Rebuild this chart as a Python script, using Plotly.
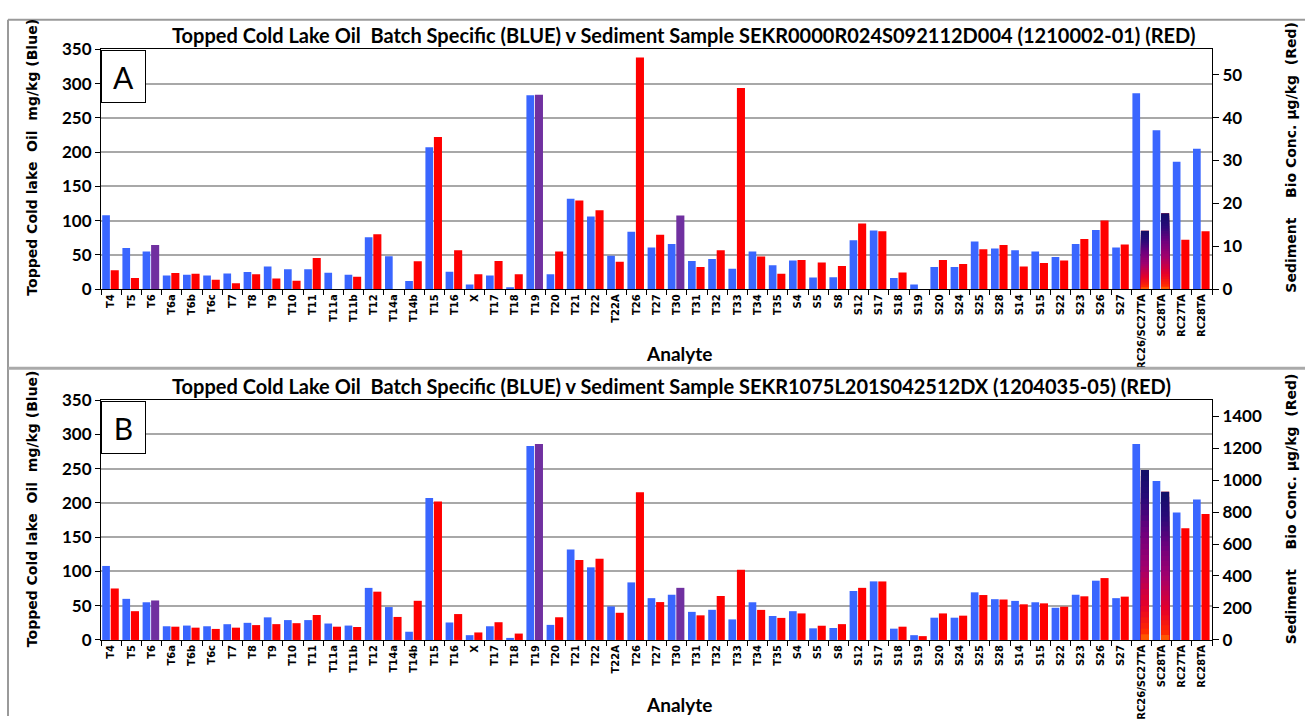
import plotly.graph_objects as go

W, H = 1305, 726

categories = ["T4", "T5", "T6", "T6a", "T6b", "T6c", "T7", "T8", "T9", "T10", "T11", "T11a", "T11b",
              "T12", "T14a", "T14b", "T15", "T16", "X", "T17", "T18", "T19", "T20", "T21", "T22",
              "T22A", "T26", "T27", "T30", "T31", "T32", "T33", "T34", "T35", "S4", "S5", "S8",
              "S12", "S17", "S18", "S19", "S20", "S24", "S25", "S28", "S14", "S15", "S22", "S23",
              "S26", "S27", "RC26/SC27TA", "SC28TA", "RC27TA", "RC28TA"]

# Topped Cold Lake Oil (mg/kg) - blue, same in both panels
oil_blue = [108, 60, 55, 20, 21, 20, 23, 25, 33, 29, 29, 24, 21,
            76, 48, 12, 207, 25.5, 7, 20, 3, 283, 22, 132, 106,
            49, 84, 61, 66, 41, 44, 30, 55, 35, 42, 17, 17.5,
            71.5, 85.5, 16.5, 7, 32.5, 32.5, 69.5, 59.5, 57, 55, 47, 66,
            86.5, 61, 286, 232, 186, 205]

# Panel A sediment SEKR0000R024S092112D004 (ug/kg) - red
sed_a = [4.4, 2.6, 10.3, 3.8, 3.6, 2.2, 1.4, 3.5, 2.5, 2.0, 7.3, 0, 2.9,
         12.8, 0, 6.5, 35.5, 9.1, 3.5, 6.6, 3.5, 45.3, 8.8, 20.7, 18.4,
         6.4, 54.0, 12.7, 17.2, 5.2, 9.1, 46.9, 7.6, 3.6, 6.8, 6.2, 5.4,
         15.3, 13.5, 3.9, 0, 6.8, 5.9, 9.3, 10.3, 5.3, 6.1, 6.7, 11.7,
         16.0, 10.4, 13.6, 17.7, 11.5, 13.5]

# Panel B sediment SEKR1075L201S042512DX (ug/kg) - red
sed_b = [322, 180, 247, 83, 77, 69, 77, 93, 99, 105, 156, 83, 81,
         302, 144, 245, 866, 162, 47, 111, 40, 1225, 142, 500, 508,
         170, 923, 237, 326, 154, 275, 439, 188, 138, 166, 89, 99,
         326, 366, 83, 24, 166, 152, 281, 253, 223, 229, 208, 273,
         387, 271, 1063, 927, 698, 787]

purple_cats = ["T6", "T19", "T30"]
gradient_cats = ["RC26/SC27TA", "SC28TA"]

title_a = "Topped Cold Lake Oil  Batch Specific (BLUE) v Sediment Sample SEKR0000R024S092112D004 (1210002-01) (RED)"
title_b = "Topped Cold Lake Oil  Batch Specific (BLUE) v Sediment Sample SEKR1075L201S042512DX (1204035-05) (RED)"
left_title = "Topped Cold lake  Oil  mg/kg (Blue)"
right_title = "Sediment    Bio Conc. µg/kg  (Red)"

BLUE = "#3a66ff"
RED = "#ff0000"
PURPLE = "#7030a0"
GRAD_STOPS = [(0.0, (255, 130, 0)), (0.07, (255, 40, 0)), (0.22, (230, 0, 40)),
              (0.45, (160, 0, 110)), (0.65, (110, 0, 125)), (0.85, (40, 10, 120)), (1.0, (20, 14, 105))]


def grad_color(f):
    for (f0, c0), (f1, c1) in zip(GRAD_STOPS[:-1], GRAD_STOPS[1:]):
        if f <= f1:
            t = (f - f0) / (f1 - f0) if f1 > f0 else 0
            c = [round(a + (b - a) * t) for a, b in zip(c0, c1)]
            return "rgb(%d,%d,%d)" % tuple(c)
    return "rgb(%d,%d,%d)" % GRAD_STOPS[-1][1]


def px_x(p):
    return p / W


def px_y(p):
    return 1 - p / H


X0, X1 = 101, 1212
panels = [
    dict(top=39.5, bot=286.5, red=sed_a, rmax=55.9, rdtick=10, title=title_a, letter="A",
         xa="x", ya="y", ya2="y2", title_y=25, analyte_y=353, ytitle_c=151),
    dict(top=400.7, bot=647.7, red=sed_b, rmax=1500, rdtick=200, title=title_b, letter="B",
         xa="x2", ya="y3", ya2="y4", title_y=386, analyte_y=714, ytitle_c=513),
]

fig = go.Figure()
BW_B, OFF_B = 0.38, -0.44
BW_R, OFF_R = 0.40, -0.02

for p in panels:
    fig.add_trace(go.Bar(x=categories, y=oil_blue, xaxis=p["xa"], yaxis=p["ya"],
                         marker=dict(color=BLUE, line=dict(width=0)),
                         width=BW_B, offset=OFF_B, showlegend=False))
    red_colors = [PURPLE if c in purple_cats else RED for c in categories]
    fig.add_trace(go.Bar(x=categories, y=p["red"], xaxis=p["xa"], yaxis=p["ya2"],
                         marker=dict(color=red_colors, line=dict(width=0)),
                         width=BW_R, offset=OFF_R, showlegend=False))
    # gradient-filled bars, drawn as stacked overlays of decreasing height
    gvals = [p["red"][categories.index(c)] for c in gradient_cats]
    N = 30
    for k in range(N):
        f = 1 - k / N
        fig.add_trace(go.Bar(x=gradient_cats, y=[v * f for v in gvals], xaxis=p["xa"], yaxis=p["ya2"],
                             marker=dict(color=grad_color(f), line=dict(width=0)),
                             width=BW_R, offset=OFF_R, showlegend=False, hoverinfo="skip"))

tick_font = dict(family="Lato", size=17, color="black", weight="bold")
axis_title_font = dict(family="DejaVu Sans", size=14, color="black", weight="bold")
layout = dict(width=W, height=H, margin=dict(l=0, r=0, t=0, b=0),
              paper_bgcolor="white", plot_bgcolor="white", barmode="overlay",
              showlegend=False)

annotations = []
shapes = []
for i, p in enumerate(panels):
    xa_name = "xaxis" if i == 0 else "xaxis2"
    ya_name = "yaxis" if i == 0 else "yaxis3"
    ya2_name = "yaxis2" if i == 0 else "yaxis4"
    dom_y = [px_y(p["bot"]), px_y(p["top"])]
    layout[xa_name] = dict(domain=[px_x(X0), px_x(X1)], anchor=p["ya"], type="category",
                           categoryorder="array", categoryarray=categories,
                           range=[-0.5, len(categories) - 0.5],
                           tickangle=-90, tickfont=dict(family="DejaVu Sans", size=10, color="black",
                                                        weight="bold"),
                           showline=True, linecolor="black", linewidth=1, mirror=True,
                           ticks="outside", ticklen=5, tickcolor="black", tickson="boundaries",
                           showgrid=False)
    layout[ya_name] = dict(domain=dom_y, anchor=p["xa"], range=[0, 350], dtick=50,
                           tickfont=tick_font, showline=True, linecolor="black", linewidth=1,
                           ticks="outside", ticklen=5, tickcolor="black",
                           showgrid=True, gridcolor="#a8a8a8", gridwidth=2, zeroline=False)
    layout[ya2_name] = dict(domain=dom_y, anchor=p["xa"], overlaying=p["ya"], side="right",
                            range=[0, p["rmax"]], dtick=p["rdtick"], tickfont=tick_font,
                            showline=True, linecolor="black", linewidth=1,
                            ticks="outside", ticklen=6, tickcolor="black", showgrid=False,
                            zeroline=False)
    annotations.append(dict(text=left_title, x=px_x(32), y=px_y(p["ytitle_c"]), xref="paper",
                            yref="paper", xanchor="center", yanchor="middle", showarrow=False,
                            textangle=-90, font=axis_title_font))
    annotations.append(dict(text=right_title, x=px_x(1291), y=px_y(p["ytitle_c"]), xref="paper",
                            yref="paper", xanchor="center", yanchor="middle", showarrow=False,
                            textangle=-90, font=axis_title_font))
    annotations.append(dict(text=p["title"], x=px_x(170), y=px_y(p["title_y"]), xref="paper",
                            yref="paper", xanchor="left", yanchor="middle", showarrow=False,
                            font=dict(family="Lato", size=20, color="black", weight="bold")))
    annotations.append(dict(text="Analyte", x=px_x(679), y=px_y(p["analyte_y"]), xref="paper",
                            yref="paper", xanchor="center", yanchor="middle", showarrow=False,
                            font=dict(family="Lato", size=19, color="black", weight="bold")))
    annotations.append(dict(text=p["letter"], x=px_x(X0), y=px_y(p["top"] + 0.5), xref="paper",
                            yref="paper", xanchor="left", yanchor="top", showarrow=False,
                            width=43, height=51, borderpad=0, bgcolor="white",
                            bordercolor="black", borderwidth=1,
                            font=dict(family="Lato", size=30, color="black")))

# panel frames
shapes.append(dict(type="line", xref="paper", yref="paper", x0=px_x(8), x1=px_x(8), y0=0,
                   y1=px_y(9), line=dict(color="#9a9a9a", width=2)))
shapes.append(dict(type="line", xref="paper", yref="paper", x0=px_x(8), x1=1, y0=px_y(9),
                   y1=px_y(9), line=dict(color="#9a9a9a", width=2)))
shapes.append(dict(type="line", xref="paper", yref="paper", x0=px_x(8), x1=1, y0=px_y(368),
                   y1=px_y(368), line=dict(color="#aaaaaa", width=3)))

layout["annotations"] = annotations
layout["shapes"] = shapes
fig.update_layout(**layout)
fig.write_html("out.html")
